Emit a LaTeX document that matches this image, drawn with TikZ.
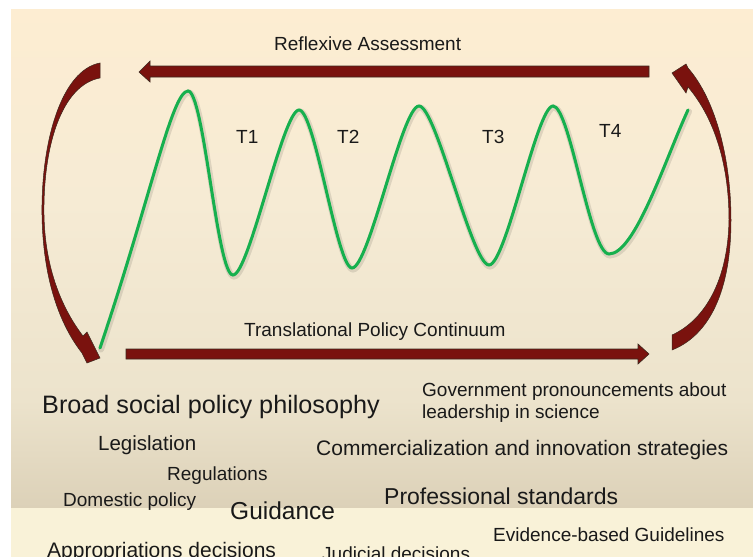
\documentclass[tikz,border=0pt]{standalone}
\usepackage{fontspec}
\setmainfont{Liberation Sans}
\definecolor{bgA}{RGB}{253,237,210}
\definecolor{bgB}{RGB}{246,235,212}
\definecolor{bgC}{RGB}{236,227,204}
\definecolor{bgD}{RGB}{220,209,184}
\definecolor{band}{RGB}{249,242,216}
\definecolor{arrowred}{RGB}{122,18,14}
\definecolor{arrowline}{RGB}{60,40,30}
\definecolor{wavegreen}{RGB}{22,176,78}
\definecolor{txt}{RGB}{25,25,25}
\newcommand\myfs[1]{\fontsize{#1}{#1}\selectfont}
\tikzset{
  lbl/.style={inner sep=0pt, anchor=base west, text=txt},
  straightarrow/.style={fill=arrowred, draw=arrowline, line width=0.6pt, line join=miter},
  curvedarrow/.style={fill=arrowred, draw=arrowline, line width=0.5pt, line join=miter},
  wave/.style={draw=wavegreen, line width=3pt, line cap=round},
  waveshadow/.style={draw=black, opacity=0.10, line width=6pt, line cap=round}
}
\begin{document}
\begin{tikzpicture}[x=1pt,y=-1pt]
\clip (0,0) rectangle (753,557);
\fill[white] (0,0) rectangle (753,557);
% background
\shade[top color=bgA, bottom color=bgB] (11,9) rectangle (753,200.5);
\shade[top color=bgB, bottom color=bgC] (11,200) rectangle (753,400.5);
\shade[top color=bgC, bottom color=bgD] (11,400) rectangle (753,508);
\fill[band] (11,508) rectangle (753,557);

% top straight arrow (Reflexive Assessment)
\filldraw[straightarrow] (649,66) -- (150,66) -- (150,61) -- (139,72) -- (150,82) -- (150,77) -- (649,77) -- cycle;
% bottom straight arrow (Translational Policy Continuum)
\filldraw[straightarrow] (126,349) -- (638,349) -- (638,344) -- (649,354) -- (638,364) -- (638,359) -- (126,359) -- cycle;

% left curved arrow
\filldraw[curvedarrow] (100,63) .. controls (62,70) and (41,140) .. (42,215)
  .. controls (43,280) and (60,325) .. (82,353) -- (87,363) -- (100,358) -- (87,332) -- (83,336)
  .. controls (63,310) and (45,270) .. (44,215)
  .. controls (43,145) and (62,85) .. (100,78) -- cycle;
% right curved arrow
\filldraw[curvedarrow] (672,335) .. controls (705,320) and (728,280) .. (729,220)
  .. controls (729,160) and (712,115) .. (688,87) -- (686,93) -- (672,73) -- (686,64) -- (688,68)
  .. controls (716,100) and (731,160) .. (731,220)
  .. controls (731,290) and (710,335) .. (672,350) -- cycle;

% green wave
\def\wavepath{(100,348) .. controls (150,200) and (172,91) .. (188,91)
  .. controls (204,91) and (217,275) .. (233,275)
  .. controls (249,275) and (283,110) .. (299,110)
  .. controls (315,110) and (337,268) .. (352,268)
  .. controls (369,268) and (402,106) .. (419,106)
  .. controls (436,106) and (472,265) .. (489,265)
  .. controls (506,265) and (537,106) .. (553,106)
  .. controls (570,106) and (590,254) .. (609,254)
  .. controls (635,254) and (665,160) .. (688,110)}
\draw[waveshadow, shift={(1,1.5)}] \wavepath;
\draw[wave] \wavepath;

% labels
\node[lbl, font=\myfs{19}] (ra) at (274,50) {Reflexive Assessment};
\node[lbl, font=\myfs{19}] (t1) at (236,143) {T1};
\node[lbl, font=\myfs{19}] (t2) at (337,143) {T2};
\node[lbl, font=\myfs{19}] (t3) at (482,143) {T3};
\node[lbl, font=\myfs{19}] (t4) at (599,137) {T4};
\node[lbl, font=\myfs{19}] (tpc) at (244,336) {Translational Policy Continuum};

\node[lbl, font=\myfs{25.2}] (broad) at (42,413) {Broad social policy philosophy};
\node[lbl, font=\myfs{19}] (gov1) at (422,396) {Government pronouncements about};
\node[lbl, font=\myfs{19}] (gov2) at (422,418) {leadership in science};
\node[lbl, font=\myfs{20.5}] (leg) at (98,450) {Legislation};
\node[lbl, font=\myfs{21}] (comm) at (316,455) {Commercialization and innovation strategies};
\node[lbl, font=\myfs{19}] (reg) at (167,480) {Regulations};
\node[lbl, font=\myfs{19}] (dom) at (63,506) {Domestic policy};
\node[lbl, font=\myfs{24.5}] (guid) at (230,519) {Guidance};
\node[lbl, font=\myfs{23}] (prof) at (384,504) {Professional standards};
\node[lbl, font=\myfs{19}] (ebg) at (493,541) {Evidence-based Guidelines};
\node[lbl, font=\myfs{21}] (appr) at (47,557) {Appropriations decisions};
\node[lbl, font=\myfs{19}] (jud) at (322,560) {Judicial decisions};
\end{tikzpicture}
\end{document}
